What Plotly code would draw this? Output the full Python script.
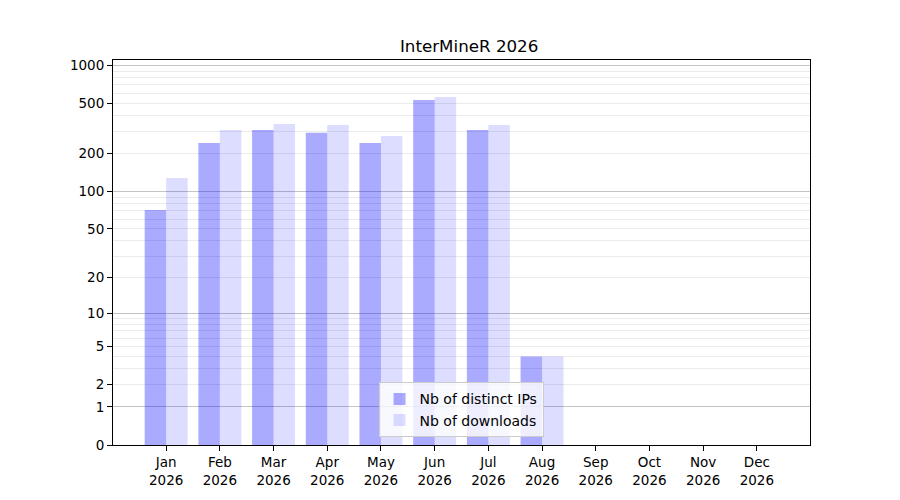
import plotly.graph_objects as go

# Monthly stats for InterMineR, 2026
months = ['Jan', 'Feb', 'Mar', 'Apr', 'May', 'Jun', 'Jul', 'Aug', 'Sep', 'Oct', 'Nov', 'Dec']
year = '2026'
distinct_ips = [71, 243, 308, 293, 243, 533, 308, 4, 0, 0, 0, 0]
downloads = [128, 308, 344, 338, 276, 563, 338, 4, 0, 0, 0, 0]

# y axis is log10(1 + n): plot n + 1 on a log axis and label with n
tick_labels = [0, 1, 2, 5, 10, 20, 50, 100, 200, 500, 1000]
major_grid = [1, 10, 100, 1000]
minor_grid = [m * p for p in (1, 10, 100) for m in range(2, 10)]

x = list(range(len(months)))
xlabels = [f"{m}<br>{year}" for m in months]

fig = go.Figure()
fig.add_trace(go.Bar(x=x, y=[v + 1 for v in distinct_ips], name='Nb of distinct IPs',
                     marker_color='rgba(0,0,255,0.333)', marker_line_width=0,
                     width=0.4, offset=-0.4, customdata=distinct_ips,
                     hovertemplate='%{customdata}'))
fig.add_trace(go.Bar(x=x, y=[v + 1 for v in downloads], name='Nb of downloads',
                     marker_color='rgba(0,0,255,0.133)', marker_line_width=0,
                     width=0.4, offset=0, customdata=downloads,
                     hovertemplate='%{customdata}', yaxis='y2'))

yrange = [0, 3.043]
fig.update_layout(
    width=900, height=500,
    margin=dict(l=105, r=98, t=52, b=63),
    plot_bgcolor='white', paper_bgcolor='white',
    font=dict(family='DejaVu Sans', size=13.5, color='black'),
    title=dict(text='InterMineR 2026', x=0.5124, xanchor='center', y=0.924, yanchor='middle',
               font=dict(size=16.7)),
    barmode='overlay',
    showlegend=True,
    legend=dict(x=0.381, y=0.02, xanchor='left', yanchor='bottom',
                bgcolor='rgba(255,255,255,0.8)', bordercolor='#cccccc', borderwidth=1,
                font=dict(size=14), tracegroupgap=0),
    xaxis=dict(range=[-0.99, 11.99], tickvals=x, ticktext=xlabels, ticks='outside',
               ticklen=5, tickcolor='black', showgrid=False, zeroline=False,
               showline=True, linecolor='black', linewidth=1, mirror=True),
    yaxis=dict(type='log', range=yrange, tickmode='array',
               tickvals=[t + 1 for t in tick_labels], ticktext=[str(t) for t in tick_labels],
               ticks='outside', ticklen=5, tickcolor='black', showgrid=False, zeroline=False,
               showline=True, linecolor='black', linewidth=1, mirror=True,
               minor=dict(tickmode='array', tickvals=[g + 1 for g in minor_grid],
                          showgrid=True, gridcolor='#ebebeb', gridwidth=1, ticks='')),
    yaxis2=dict(type='log', range=yrange, overlaying='y', tickmode='array',
                tickvals=[g + 1 for g in major_grid], showticklabels=False, ticks='',
                showgrid=True, gridcolor='#c4c4c4', gridwidth=1, zeroline=False,
                showline=False),
)

fig.write_html("out.html")
